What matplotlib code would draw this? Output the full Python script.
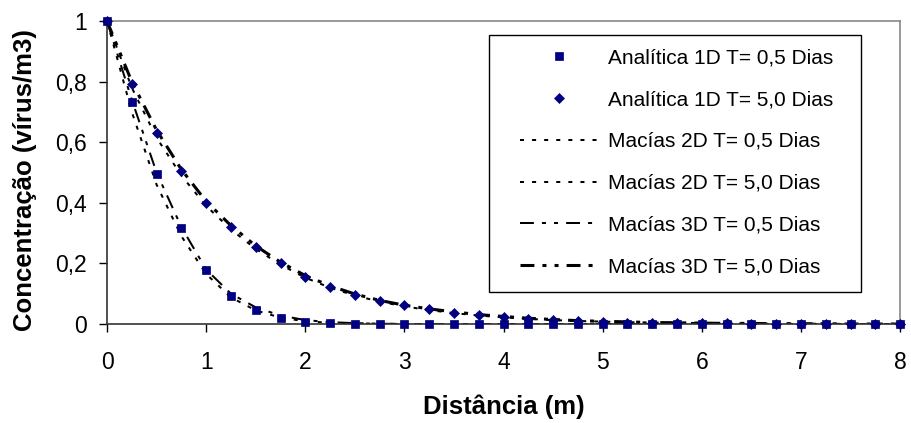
import matplotlib.pyplot as plt
from matplotlib.lines import Line2D
from matplotlib.patches import Rectangle
from matplotlib.ticker import FuncFormatter

plt.rcParams['font.family'] = ['Liberation Sans', 'DejaVu Sans']
plt.rcParams['lines.scale_dashes'] = False

# distance (m), sampled every 0.25 m
dist = [i * 0.25 for i in range(33)]

# analytical 1D solution
ana_05 = [1, 0.733, 0.495, 0.317, 0.180, 0.092, 0.046, 0.020, 0.008, 0.003,
          0.001, 0, 0, 0, 0, 0, 0, 0, 0, 0, 0, 0, 0, 0, 0, 0, 0, 0, 0, 0, 0, 0, 0]
ana_50 = [1, 0.794, 0.631, 0.505, 0.401, 0.320, 0.254, 0.200, 0.156, 0.122,
          0.096, 0.077, 0.062, 0.049, 0.037, 0.030, 0.024, 0.018, 0.013, 0.010,
          0.007, 0.005, 0.004, 0.003, 0.002, 0.002, 0.001, 0.001, 0.001, 0, 0, 0, 0]

# Macías 2D / 3D
mac2d_05 = [1, 0.70, 0.46, 0.29, 0.165, 0.088, 0.045, 0.021, 0.009, 0.004,
            0.002, 0.001, 0, 0, 0, 0, 0, 0, 0, 0, 0, 0, 0, 0, 0, 0, 0, 0, 0, 0, 0, 0, 0]
mac2d_50 = [1, 0.78, 0.615, 0.49, 0.39, 0.312, 0.248, 0.196, 0.153, 0.120,
            0.094, 0.074, 0.058, 0.046, 0.036, 0.028, 0.022, 0.017, 0.013, 0.010,
            0.008, 0.006, 0.005, 0.004, 0.003, 0.002, 0.002, 0.001, 0.001, 0.001, 0, 0, 0]
mac3d_05 = [1, 0.74, 0.50, 0.32, 0.18, 0.10, 0.055, 0.028, 0.013, 0.006,
            0.003, 0.001, 0, 0, 0, 0, 0, 0, 0, 0, 0, 0, 0, 0, 0, 0, 0, 0, 0, 0, 0, 0, 0]
mac3d_50 = [1, 0.80, 0.64, 0.51, 0.405, 0.325, 0.258, 0.204, 0.160, 0.126,
            0.099, 0.078, 0.062, 0.050, 0.040, 0.031, 0.025, 0.019, 0.015, 0.011,
            0.009, 0.007, 0.005, 0.004, 0.003, 0.002, 0.002, 0.001, 0.001, 0.001, 0, 0, 0]

labels = ['Analítica 1D T= 0,5 Dias', 'Analítica 1D T= 5,0 Dias',
          'Macías 2D T= 0,5 Dias', 'Macías 2D T= 5,0 Dias',
          'Macías 3D T= 0,5 Dias', 'Macías 3D T= 5,0 Dias']

navy = '#000080'
dot_style = (0, (2.9, 5.8))
dd_style = (0, (10, 5.8, 2.9, 5.8, 2.9, 5.8))

fig = plt.figure(figsize=(9.11, 4.23), dpi=100)
ax = fig.add_axes([0.1175, 0.234, 0.8705, 0.716])

ax.plot(dist, mac2d_05, color='black', lw=1.45, linestyle=dot_style)
ax.plot(dist, mac2d_50, color='black', lw=1.45, linestyle=dot_style)
ax.plot(dist, mac3d_05, color='black', lw=1.45, linestyle=dd_style)
ax.plot(dist, mac3d_50, color='black', lw=2.2, linestyle=dd_style)
ax.plot(dist, ana_05, linestyle='none', marker='s', ms=5.8, mew=0.5, color=navy,
        clip_on=False, zorder=4)
ax.plot(dist, ana_50, linestyle='none', marker='D', ms=5.3, mew=0.5, color=navy,
        clip_on=False, zorder=4)

ax.set_xlim(0, 8)
ax.set_ylim(0, 1)
ax.set_xticks(range(9))
ax.set_yticks([0, 0.2, 0.4, 0.6, 0.8, 1.0])
ax.yaxis.set_major_formatter(FuncFormatter(lambda v, p: ('%g' % round(v, 1)).replace('.', ',')))
ax.tick_params(axis='both', direction='out', length=5.5, width=1, labelsize=16.5, colors='black')
ax.tick_params(axis='x', pad=14)
ax.tick_params(axis='y', pad=9)

for s in ['left', 'bottom']:
    ax.spines[s].set_color('#333333')
    ax.spines[s].set_linewidth(1.2)
for s in ['top', 'right']:
    ax.spines[s].set_color('#888888')
    ax.spines[s].set_linewidth(1.2)

ax.set_xlabel('Distância (m)', fontsize=18.5, fontweight='bold', labelpad=15)
ax.set_ylabel('Concentração (vírus/m3)', fontsize=18.5, fontweight='bold')
ax.yaxis.set_label_coords(-0.088, 0.475)

# legend box
ax.add_patch(Rectangle((0.482, 0.106), 0.469, 0.848, transform=ax.transAxes,
                       facecolor='white', edgecolor='black', lw=1.0, zorder=5))

handles = [
    Line2D([], [], linestyle='none', marker='s', ms=5.8, mew=0.5, color=navy),
    Line2D([], [], linestyle='none', marker='D', ms=5.3, mew=0.5, color=navy),
    Line2D([], [], color='black', lw=1.45, linestyle=dot_style),
    Line2D([], [], color='black', lw=1.45, linestyle=dot_style),
    Line2D([], [], color='black', lw=1.45, linestyle=dd_style),
    Line2D([], [], color='black', lw=2.2, linestyle=dd_style),
]
leg = ax.legend(handles, labels, loc='upper left', bbox_to_anchor=(0.5208, 0.911),
                borderaxespad=0, borderpad=0, fontsize=15, handlelength=3.75,
                handletextpad=0.48, labelspacing=1.1, frameon=False)
leg.set_zorder(6)

fig.savefig('out.png', dpi=100)
